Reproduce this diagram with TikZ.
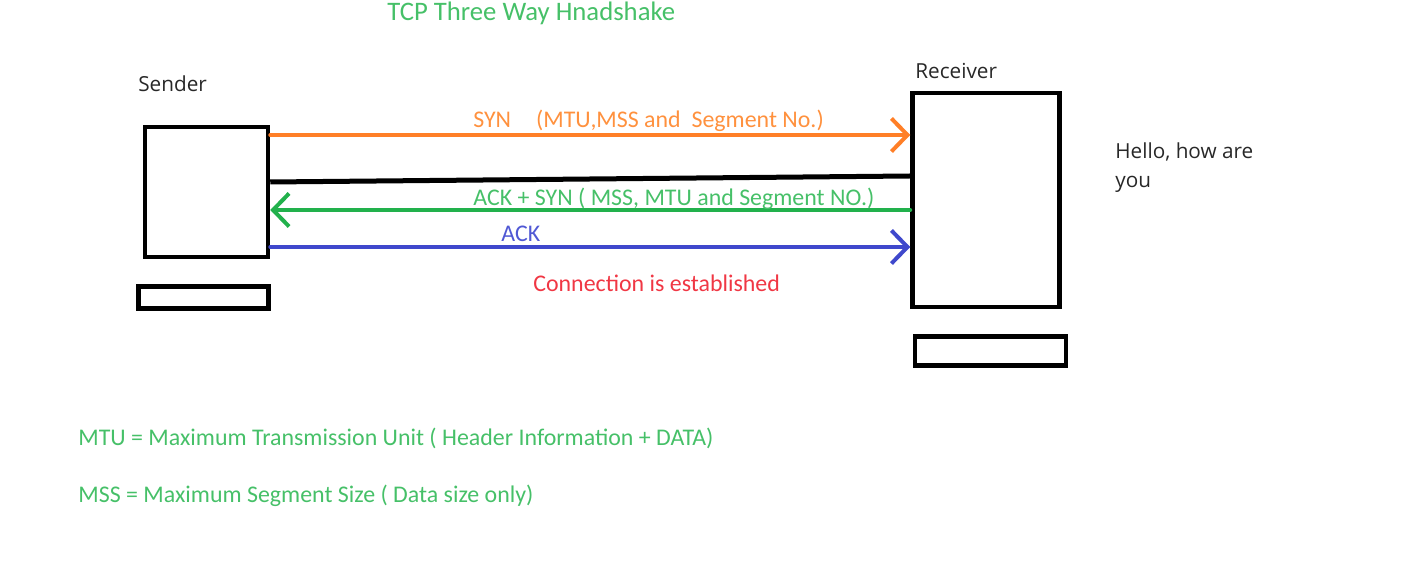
\documentclass[tikz,border=0pt]{standalone}
\usepackage{fontspec}
\setmainfont{Carlito}
\newfontfamily\uifont{Open Sans}
\usetikzlibrary{arrows.meta}

\definecolor{synorange}{RGB}{255,127,39}
\definecolor{syntext}{RGB}{255,145,62}
\definecolor{ackgreen}{RGB}{34,177,76}
\definecolor{greentext}{RGB}{70,192,104}
\definecolor{ackblue}{RGB}{63,72,204}
\definecolor{bluetext}{RGB}{80,88,212}
\definecolor{donered}{RGB}{240,55,68}
\definecolor{plaintext}{RGB}{40,40,40}

\tikzset{
  box/.style={draw=black, line width=0.9mm, inner sep=0pt},
  wire/.style={line width=0.8mm, line cap=round},
  barb/.style={-{Straight Barb[length=3.2mm,width=6.6mm]}},
  calabel/.style={anchor=base west, inner sep=0pt, font=\fontsize{13.6}{16}\selectfont},
  uilabel/.style={anchor=base west, inner sep=0pt, text=plaintext, font=\uifont\fontsize{11.8}{16.5}\selectfont},
}

\begin{document}
\begin{tikzpicture}[x=0.2mm, y=-0.2mm]
  \useasboundingbox (0,0) rectangle (1407,567);

  % the two hosts
  \node[box, minimum width=24.6mm, minimum height=26mm] (sender) at (206.5,192) {};
  \node[box, minimum width=26mm, minimum height=4.4mm] (senderbase) at (203.5,297.5) {};
  \node[box, minimum width=29.4mm, minimum height=42.8mm] (receiver) at (986,200) {};
  \node[box, minimum width=30.2mm, minimum height=5.8mm] (receiverbase) at (990.5,351) {};

  % handshake
  \draw[wire, barb, draw=synorange] (sender.east |- 0,135) -- (receiver.west |- 0,135);
  \draw[line width=1mm] (sender.east |- 0,182) -- (receiver.west |- 0,176);
  \draw[wire, barb, draw=ackgreen] (receiver.west |- 0,210) -- (sender.east |- 0,210);
  \draw[wire, barb, draw=ackblue] (sender.east |- 0,247) -- (receiver.west |- 0,247);

  \node[calabel, text=greentext, font=\fontsize{15.2}{18}\selectfont] (title) at (387,21) {TCP Three Way Hnadshake};
  \node[uilabel] (senderlabel) at (138,92) {Sender};
  \node[uilabel] (receiverlabel) at (915,79) {Receiver};
  \node[uilabel, align=left] (hello) at (1115,188) {Hello, how are\\you};

  \node[calabel, text=syntext] (synlabel) at (473,128) {SYN\hspace{5mm}(MTU,MSS and\ \ Segment No.)};
  \node[calabel, text=greentext] (acksynlabel) at (473,206) {ACK + SYN ( MSS, MTU and Segment NO.)};
  \node[calabel, text=bluetext] (acklabel) at (501,242) {ACK};
  \node[calabel, text=donered] (donelabel) at (533,292) {Connection is established};

  \node[calabel, text=greentext] (mtu) at (78,446) {MTU = Maximum Transmission Unit ( Header Information + DATA)};
  \node[calabel, text=greentext] (mss) at (78,503) {MSS = Maximum Segment Size ( Data size only)};
\end{tikzpicture}
\end{document}
